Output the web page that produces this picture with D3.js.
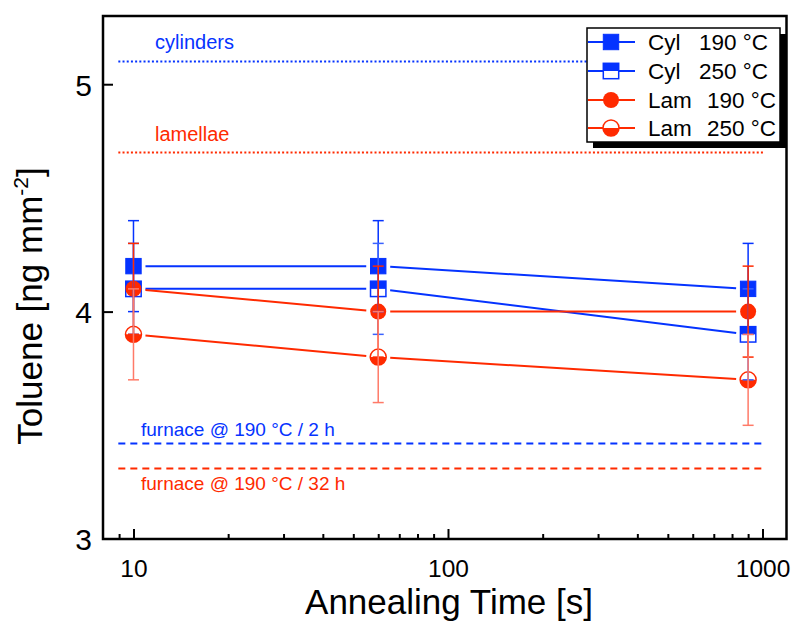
<!DOCTYPE html>
<html>
<head>
<meta charset="utf-8">
<script src="https://cdn.jsdelivr.net/npm/d3@7"></script>
<style>
  html, body { margin: 0; padding: 0; background: #fff; }
  svg { display: block; font-family: "Liberation Sans", Arial, sans-serif; }
</style>
</head>
<body>
<svg id="chart" width="796" height="627"></svg>
<script>
// ---- data ----
const times = [10, 60, 900];
const cyl190 = [4.2, 4.2, 4.1];
const cyl250 = [4.1, 4.1, 3.9];
const lam190 = [4.1, 4.0, 4.0];
const lam250 = [3.9, 3.8, 3.7];
const errCyl190 = [0.2, 0.2, 0.2];
const errCyl250 = [0.2, 0.2, 0.2];
const errLam190 = [0.2, 0.2, 0.2];
const errLam250 = [0.2, 0.2, 0.2];
const refValues = [5.1, 4.7, 3.42, 3.31];
const refLabels = ["cylinders", "lamellae", "furnace @ 190 °C / 2 h", "furnace @ 190 °C / 32 h"];
const xTicks = [10, 100, 1000];
const xMinorTicks = [9, 20, 30, 40, 50, 60, 70, 80, 90, 200, 300, 400, 500, 600, 700, 800, 900];
const yTicks = [3, 4, 5];
const legendNames = ["Cyl", "Cyl", "Lam", "Lam"];
const legendTemps = ["190 °C", "250 °C", "190 °C", "250 °C"];

const BLUE = "#0533ff", BLUE_L = "#3a62ff", RED = "#ff2a00", RED_L = "#ff7a68";

const svg = d3.select("#chart");
const L = 103, R = 786.5, T = 16, B = 539;
const x = d3.scaleLog().domain([8, 1192]).range([L, R]);
const y = d3.scaleLinear().domain([3, 5.3]).range([B, T]);

// ---- reference lines ----
const refStyle = [
  {c: BLUE, dash: "2,2.2", lx: 155, ly: 49},
  {c: RED, dash: "2,2.2", lx: 155, ly: 141},
  {c: BLUE, dash: "7,5", lx: 141, ly: 436},
  {c: RED, dash: "7,5", lx: 141, ly: 490}
];
refValues.forEach((v, i) => {
  const s = refStyle[i];
  svg.append("line").attr("x1", x(8.95)).attr("x2", x(1010))
    .attr("y1", y(v)).attr("y2", y(v))
    .attr("stroke", s.c).attr("stroke-width", 2).attr("stroke-dasharray", s.dash);
  svg.append("text").attr("x", s.lx).attr("y", s.ly)
    .attr("fill", s.c).attr("font-size", i < 2 ? 20 : 19).text(refLabels[i]);
});

// ---- series ----
const series = [
  {v: cyl190, e: errCyl190, c: BLUE, ec: BLUE, m: "sq"},
  {v: cyl250, e: errCyl250, c: BLUE, ec: BLUE_L, m: "sqh"},
  {v: lam190, e: errLam190, c: RED, ec: RED, m: "ci"},
  {v: lam250, e: errLam250, c: RED, ec: RED_L, m: "cih"}
];

const gap = 12;
series.forEach(s => {
  for (let i = 0; i < times.length - 1; i++) {
    const x1 = x(times[i]), y1 = y(s.v[i]), x2 = x(times[i + 1]), y2 = y(s.v[i + 1]);
    const dx = x2 - x1, dy = y2 - y1, len = Math.hypot(dx, dy);
    const ux = dx / len, uy = dy / len;
    svg.append("line")
      .attr("x1", x1 + ux * gap).attr("y1", y1 + uy * gap)
      .attr("x2", x2 - ux * gap).attr("y2", y2 - uy * gap)
      .attr("stroke", s.c).attr("stroke-width", 2);
  }
});

function drawMarker(g, type, cx, cy, c) {
  const h = 7.7, r = 8;
  if (type === "sq") {
    g.append("rect").attr("x", cx - h).attr("y", cy - h).attr("width", 2 * h).attr("height", 2 * h)
      .attr("fill", c).attr("stroke", c).attr("stroke-width", 1);
  } else if (type === "sqh") {
    g.append("rect").attr("x", cx - h).attr("y", cy - h).attr("width", 2 * h).attr("height", 2 * h)
      .attr("fill", "#fff").attr("stroke", c).attr("stroke-width", 1.5);
    g.append("rect").attr("x", cx - h).attr("y", cy - h).attr("width", 2 * h).attr("height", h)
      .attr("fill", c);
  } else if (type === "ci") {
    g.append("circle").attr("cx", cx).attr("cy", cy).attr("r", r).attr("fill", c);
  } else {
    g.append("circle").attr("cx", cx).attr("cy", cy).attr("r", r)
      .attr("fill", "#fff").attr("stroke", c).attr("stroke-width", 1.5);
    g.append("path")
      .attr("d", `M${cx - r},${cy} A${r},${r} 0 0 0 ${cx + r},${cy} Z`)
      .attr("fill", c);
  }
}

const mg = svg.append("g");
series.forEach(s => {
  times.forEach((t, i) => drawMarker(mg, s.m, x(t), y(s.v[i]), s.c));
});

// error bars on top
series.forEach(s => {
  times.forEach((t, i) => {
    const cx = x(t), lo = y(s.v[i] - s.e[i]), hi = y(s.v[i] + s.e[i]);
    const g = svg.append("g").attr("stroke", s.ec).attr("stroke-width", 1.5);
    g.append("line").attr("x1", cx).attr("x2", cx).attr("y1", lo).attr("y2", hi);
    g.append("line").attr("x1", cx - 5.5).attr("x2", cx + 5.5).attr("y1", lo).attr("y2", lo);
    g.append("line").attr("x1", cx - 5.5).attr("x2", cx + 5.5).attr("y1", hi).attr("y2", hi);
  });
});

// ---- axes ----
const xAxis = svg.append("g").attr("transform", `translate(0,${B})`)
  .call(d3.axisBottom(x).tickValues(xTicks).tickFormat(d3.format("d")).tickSize(-10).tickPadding(21));
const xMinor = svg.append("g").attr("transform", `translate(0,${B})`)
  .call(d3.axisBottom(x).tickValues(xMinorTicks).tickFormat("").tickSize(-5));
const yAxis = svg.append("g").attr("transform", `translate(${L},0)`)
  .call(d3.axisLeft(y).tickValues(yTicks).tickFormat(d3.format("d")).tickSize(-10).tickPadding(11));

[xAxis, xMinor, yAxis].forEach(a => {
  a.select(".domain").remove();
  a.selectAll(".tick line").attr("stroke", "#000").attr("stroke-width", 2);
  a.selectAll("text").attr("fill", "#000").attr("font-family", "Liberation Sans, Arial, sans-serif");
});
xAxis.selectAll("text").attr("font-size", 24.5);
yAxis.selectAll("text").attr("font-size", 30).attr("dy", "0.36em");
yAxis.selectAll(".tick").filter(d => d === 3).select("line").remove();

// frame
svg.append("rect").attr("x", L).attr("y", T).attr("width", R - L).attr("height", B - T)
  .attr("fill", "none").attr("stroke", "#000").attr("stroke-width", 2.5);

// ---- axis titles ----
svg.append("text").attr("x", 449).attr("y", 614).attr("text-anchor", "middle")
  .attr("font-size", 35).attr("fill", "#000").text("Annealing Time [s]");

const yt = svg.append("text").attr("transform", "translate(42,306) rotate(-90)")
  .attr("text-anchor", "middle").attr("font-size", 35).attr("fill", "#000");
yt.append("tspan").text("Toluene [ng mm");
yt.append("tspan").attr("dy", -14).attr("font-size", 21).text("-2");
yt.append("tspan").attr("dy", 14).text("]");

// ---- legend ----
const lg = svg.append("g");
lg.append("rect").attr("x", 593).attr("y", 34).attr("width", 193).attr("height", 114).attr("fill", "#000");
lg.append("rect").attr("x", 587).attr("y", 28).attr("width", 193).attr("height", 114)
  .attr("fill", "#fff").attr("stroke", "#000").attr("stroke-width", 1.5);
const rowY = [42, 71, 100, 128];
series.forEach((s, i) => {
  const ry = rowY[i];
  lg.append("line").attr("x1", 588).attr("x2", 635).attr("y1", ry).attr("y2", ry)
    .attr("stroke", s.c).attr("stroke-width", 2);
  drawMarker(lg, s.m, 611, ry, s.c);
  lg.append("text").attr("x", 648).attr("y", ry + 8).attr("font-size", 22.5)
    .attr("fill", "#000").text(legendNames[i]);
  lg.append("text").attr("x", i < 2 ? 699 : 707).attr("y", ry + 8).attr("font-size", 22.5)
    .attr("fill", "#000").text(legendTemps[i]);
});
</script>
</body>
</html>
